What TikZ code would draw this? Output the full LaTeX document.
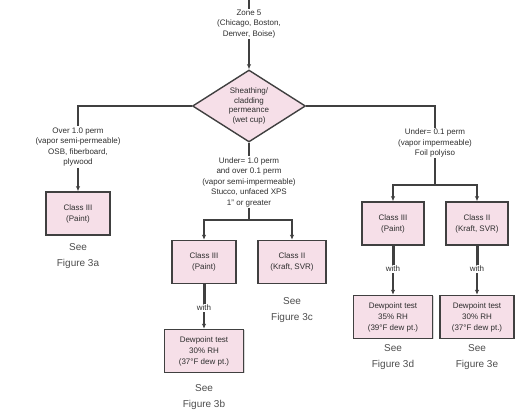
\documentclass[tikz,border=0pt]{standalone}
\usepackage{fontspec}
\setmainfont{Liberation Sans}
\usetikzlibrary{shapes.geometric,arrows.meta,shadows}
\definecolor{boxpink}{HTML}{F6DFE8}
\definecolor{boxline}{HTML}{404040}
\definecolor{txtgray}{HTML}{2E2E2E}
\tikzset{
  lbl/.style={align=center, text=txtgray, inner sep=1pt, font=\fontsize{8}{10.5}\selectfont},
  seelbl/.style={align=center, text=txtgray!85, inner sep=1pt, font=\fontsize{10}{15.5}\selectfont},
  classbox/.style={draw=boxline, fill=boxpink, line width=1.4pt, align=center, text=txtgray,
    minimum width=64pt, minimum height=43pt, inner sep=1pt, font=\fontsize{8}{11}\selectfont,
    drop shadow={shadow xshift=1pt, shadow yshift=-1pt, opacity=0.3}},
  dewbox/.style={classbox, minimum width=79pt, minimum height=43pt},
  link/.style={draw=boxline, line width=1.1pt},
  arrow/.style={link, -{Latex[length=5pt,width=4.5pt]}},
  withline/.style={draw=boxline, line width=3pt},
}
\begin{document}
\begin{tikzpicture}[x=1pt,y=-1pt]
\useasboundingbox (0,0) rectangle (515,414);

% Zone and the decision diamond
\coordinate (top) at (249,0);
\node[lbl] (zone) at (249,24) {Zone 5\\(Chicago, Boston,\\Denver, Boise)};
\node[diamond, aspect=1.6, draw=boxline, fill=boxpink, line width=1.4pt, minimum width=113pt,
  minimum height=72pt, inner sep=0pt, align=center, text=txtgray,
  font=\fontsize{8}{9.5}\selectfont] (sheath) at (249,106) {Sheathing/\\cladding\\permeance\\(wet cup)};
\draw[link] (top) -- (zone.north);
\draw[arrow] (zone.south) -- (sheath.north);

% Left branch
\node[lbl] (semiperm) at (78,147) {Over 1.0 perm\\(vapor semi-permeable)\\OSB, fiberboard,\\plywood};
\draw[link] (sheath.west) -| (semiperm.north);
\node[classbox] (paintA) at (78,213.5) {Class III\\(Paint)};
\draw[arrow] (semiperm.south) -- (paintA.north);
\node[seelbl] (figA) at (78,256) {See\\Figure 3a};

% Middle branch
\node[lbl] (semiimp) at (249,182) {Under= 1.0 perm\\and over 0.1 perm\\(vapor semi-impermeable)\\Stucco, unfaced XPS\\1'' or greater};
\draw[link] (sheath.south) -- (semiimp.north);
\coordinate (midsplit) at (249,220);
\node[classbox] (paintB) at (204,262) {Class III\\(Paint)};
\node[classbox, minimum width=68pt] (kraftC) at (292,262) {Class II\\(Kraft, SVR)};
\draw[link] (semiimp.south) -- (midsplit);
\draw[arrow] (midsplit) -| (paintB.north);
\draw[arrow] (midsplit) -| (kraftC.north);
\node[lbl] (withB) at (204,308) {with};
\draw[withline] (paintB.south) -- (withB.north);
\node[dewbox] (dewB) at (204,351) {Dewpoint test\\30\% RH\\(37°F dew pt.)};
\draw[arrow] (withB.south) -- (dewB.north);
\node[seelbl] (figB) at (204,397) {See\\Figure 3b};
\node[seelbl] (figC) at (292,310) {See\\Figure 3c};

% Right branch
\node[lbl] (imperm) at (435,143) {Under= 0.1 perm\\(vapor impermeable)\\Foil polyiso};
\draw[link] (sheath.east) -| (imperm.north);
\coordinate (rightsplit) at (435,185);
\node[classbox, minimum width=62pt] (paintD) at (393,223.5) {Class III\\(Paint)};
\node[classbox, minimum width=62pt] (kraftE) at (477,223.5) {Class II\\(Kraft, SVR)};
\draw[link] (imperm.south) -- (rightsplit);
\draw[arrow] (rightsplit) -| (paintD.north);
\draw[arrow] (rightsplit) -| (kraftE.north);
\node[lbl] (withD) at (393,269) {with};
\node[lbl] (withE) at (477,269) {with};
\draw[withline] (paintD.south) -- (withD.north);
\draw[withline] (kraftE.south) -- (withE.north);
\node[dewbox] (dewD) at (393,317) {Dewpoint test\\35\% RH\\(39°F dew pt.)};
\node[dewbox, minimum width=74pt] (dewE) at (477,317) {Dewpoint test\\30\% RH\\(37°F dew pt.)};
\draw[arrow] (withD.south) -- (dewD.north);
\draw[arrow] (withE.south) -- (dewE.north);
\node[seelbl] (figD) at (393,357) {See\\Figure 3d};
\node[seelbl] (figE) at (477,357) {See\\Figure 3e};
\end{tikzpicture}
\end{document}
